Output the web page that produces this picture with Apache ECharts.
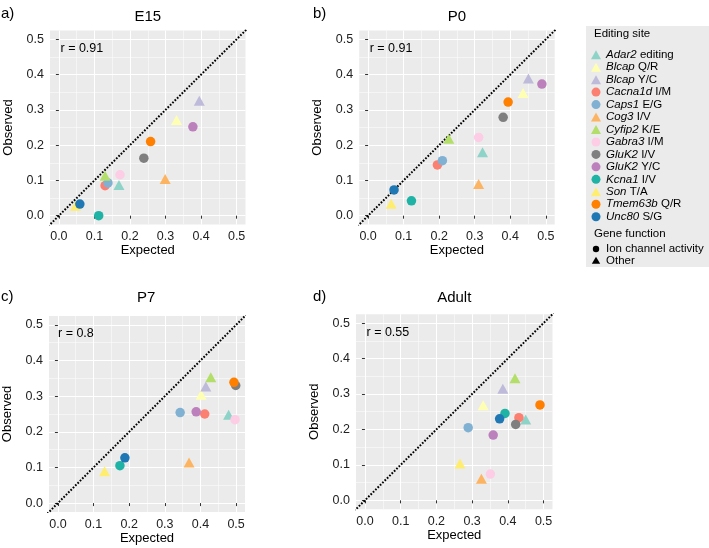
<!DOCTYPE html>
<html><head><meta charset="utf-8">
<script src="https://cdn.jsdelivr.net/npm/echarts@6/dist/echarts.min.js"></script>
<style>html,body{margin:0;padding:0;background:#fff}#c{width:709px;height:548px}</style>
</head><body><div id="c"></div>
<script>
// ---- data ----
const siteGenes   = ['Adar2','Blcap','Blcap','Cacna1d','Caps1','Cog3','Cyfip2','Gabra3','GluK2','GluK2','Kcna1','Son','Tmem63b','Unc80'];
const siteChanges = ['editing','Q/R','Y/C','I/M','E/G','I/V','K/E','I/M','I/V','Y/C','I/V','T/A','Q/R','S/G'];
const siteFunction = ['Other','Other','Other','Ion channel activity','Ion channel activity','Other','Other','Ion channel activity','Ion channel activity','Ion channel activity','Ion channel activity','Other','Ion channel activity','Ion channel activity'];
const siteColors = ['#8DD3C7','#FFFFB3','#BEBADA','#FB8072','#80B1D3','#FDB462','#B3DE69','#FCCDE5','#7F7F7F','#BC80BD','#1FB3A5','#FFED6F','#FF7F00','#1F78B4'];
const functionNames = ['Ion channel activity','Other'];

const panelNames   = ['E15','P0','P7','Adult'];
const panelLetters = ['a)','b)','c)','d)'];
const panelR       = ['0.91','0.91','0.8','0.55'];

const e15Expected   = [0.169,0.331,0.395,0.130,0.138,0.299,0.130,0.172,0.239,0.377,0.112,0.047,0.258,0.059];
const e15Observed   = [0.087,0.271,0.326,0.085,0.093,0.104,0.113,0.116,0.163,0.252,0.000,0.028,0.210,0.033];
const p0Expected    = [0.322,0.436,0.451,0.195,0.209,0.311,0.227,0.311,0.380,0.489,0.122,0.065,0.394,0.073];
const p0Observed    = [0.180,0.348,0.389,0.144,0.156,0.090,0.218,0.222,0.279,0.373,0.042,0.034,0.322,0.073];
const p7Expected    = [0.479,0.402,0.415,0.412,0.343,0.368,0.429,0.497,0.499,0.388,0.174,0.131,0.494,0.188];
const p7Observed    = [0.248,0.304,0.327,0.250,0.254,0.114,0.353,0.234,0.330,0.256,0.105,0.089,0.339,0.127];
const adultExpected = [0.450,0.331,0.386,0.431,0.289,0.326,0.420,0.351,0.422,0.359,0.392,0.266,0.490,0.377];
const adultObserved = [0.228,0.268,0.315,0.233,0.205,0.061,0.344,0.074,0.214,0.184,0.245,0.104,0.269,0.230];

const tickValues  = [0, 0.1, 0.2, 0.3, 0.4, 0.5];
const minorValues = [0.05, 0.15, 0.25, 0.35, 0.45];
const axisRange   = [-0.025, 0.525];
const identityLine = [-0.03, 0.53];

// ---- layout ----
const expected = [e15Expected, p0Expected, p7Expected, adultExpected];
const observed = [e15Observed, p0Observed, p7Observed, adultObserved];
const grids = [
  {left: 50,    top: 30.5,  width: 195.5, height: 194},
  {left: 359.2, top: 30.5,  width: 195.5, height: 194},
  {left: 47.5,  top: 316,   width: 197.5, height: 196},
  {left: 356,   top: 314.2, width: 196.5, height: 195}
];
const FONT = '"Liberation Sans", Arial, Helvetica, sans-serif';
const siteName = i => siteGenes[i] + ' ' + siteChanges[i];

const xAxes = [], yAxes = [], series = [], graphics = [];
grids.forEach((g, p) => {
  const main = (isX) => ({
    gridIndex: p, type: 'value', min: axisRange[0], max: axisRange[1],
    axisLine: {show: false},
    axisTick: {show: true, length: 3, customValues: tickValues, lineStyle: {color: '#333', width: 1}},
    axisLabel: {customValues: tickValues, formatter: v => v.toFixed(1), fontSize: 12.5, color: '#222', fontFamily: FONT, margin: 6},
    splitLine: {show: true, lineStyle: {color: '#ffffff', width: 1.1}},
    name: isX ? 'Expected' : 'Observed', nameLocation: 'middle', nameGap: isX ? 16 : 35,
    nameTextStyle: {fontSize: 13, color: '#000', fontFamily: FONT}
  });
  const minor = () => ({
    gridIndex: p, type: 'value', min: axisRange[0], max: axisRange[1],
    axisLine: {show: false},
    axisTick: {show: false, customValues: minorValues},
    axisLabel: {show: false, customValues: minorValues},
    splitLine: {show: true, lineStyle: {color: '#ffffff', width: 0.5}}
  });
  xAxes.push(main(true), minor());
  yAxes.push(main(false), minor());
  series.push({
    type: 'line', xAxisIndex: 2 * p, yAxisIndex: 2 * p, silent: true, clip: true,
    symbol: 'none', data: [[identityLine[0], identityLine[0]], [identityLine[1], identityLine[1]]],
    lineStyle: {color: '#000', width: 2, type: [1.7, 1.6], cap: 'butt'}, z: 1
  });
  siteGenes.forEach((_, s) => {
    const tri = siteFunction[s] === 'Other';
    series.push({
      type: 'scatter', name: siteName(s), xAxisIndex: 2 * p, yAxisIndex: 2 * p,
      symbol: tri ? 'triangle' : 'circle', symbolSize: tri ? [11, 10] : 9.5,
      itemStyle: {color: siteColors[s], opacity: 1}, z: 3,
      data: [[expected[p][s], observed[p][s]]]
    });
  });
  const col = p % 2, row = Math.floor(p / 2);
  graphics.push({type: 'text', left: col ? 313 : 1, top: row ? 289 : 6,
    style: {text: panelLetters[p], fontSize: 15, fontFamily: FONT, fill: '#000'}});
  graphics.push({type: 'text', x: g.left + g.width / 2, y: row ? 298 : 17,
    style: {text: panelNames[p], fontSize: 15, fontFamily: FONT, fill: '#000', align: 'center', verticalAlign: 'middle'}});
  graphics.push({type: 'text', x: g.left + 10.5, y: g.top + 18, z: 10,
    style: {text: 'r = ' + panelR[p], fontSize: 12.5, fontFamily: FONT, fill: '#000', verticalAlign: 'middle'}});
});

// legend background and gene-function section
graphics.push({type: 'rect', shape: {x: 586, y: 26, width: 130, height: 241}, style: {fill: '#EBEBEB'}, z: -1});
graphics.push({type: 'text', x: 594, y: 34, style: {text: 'Editing site', fontSize: 11.5, fontFamily: FONT, fill: '#000', verticalAlign: 'middle'}});
graphics.push({type: 'text', x: 594, y: 234, style: {text: 'Gene function', fontSize: 11.5, fontFamily: FONT, fill: '#000', verticalAlign: 'middle'}});
functionNames.forEach((f, i) => {
  const y = 249 + i * 11.5;
  graphics.push(i === 0
    ? {type: 'circle', shape: {cx: 596, cy: y, r: 3.2}, style: {fill: '#000'}}
    : {type: 'polygon', shape: {points: [[596, y - 3.8], [600.2, y + 3.2], [591.8, y + 3.2]]}, style: {fill: '#000'}});
  graphics.push({type: 'text', x: 606, y: y, style: {text: f, fontSize: 11.5, fontFamily: FONT, fill: '#000', verticalAlign: 'middle'}});
});

const chart = echarts.init(document.getElementById('c'), null, {renderer: 'canvas'});
chart.setOption({
  animation: false,
  backgroundColor: '#ffffff',
  textStyle: {fontFamily: FONT},
  grid: grids.map(g => Object.assign({show: true, backgroundColor: '#EBEBEB', borderWidth: 0, containLabel: false}, g)),
  xAxis: xAxes,
  yAxis: yAxes,
  legend: {
    orient: 'vertical', left: 591, top: 48.5, padding: 0,
    itemWidth: 10, itemHeight: 9, itemGap: 0,
    data: siteGenes.map((_, s) => siteName(s)),
    selectedMode: false,
    formatter: name => {
      const k = name.indexOf(' ');
      return '{i|' + name.slice(0, k) + '}{n|' + name.slice(k) + '}';
    },
    textStyle: {fontSize: 11.5, color: '#000', fontFamily: FONT, lineHeight: 12.46, height: 12.46,
      rich: {
        i: {fontStyle: 'italic', fontSize: 11.5, fontFamily: FONT, lineHeight: 12.46, height: 12.46},
        n: {fontSize: 11.5, fontFamily: FONT, lineHeight: 12.46, height: 12.46}
      }}
  },
  graphic: graphics,
  series: series
});
</script>
</body></html>
